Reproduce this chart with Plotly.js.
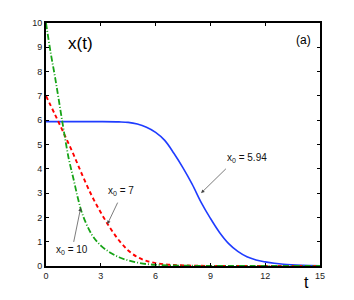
<!DOCTYPE html>
<html>
<head>
<meta charset="utf-8">
<script src="https://cdn.plot.ly/plotly-3.0.1.min.js"></script>
<style>html,body{margin:0;padding:0;background:#fff;}#plot{width:354px;height:300px;}</style>
</head>
<body>
<div id="plot"></div>
<script>
// x0 = 5.94 (blue, solid)
var tBlue = [0, 1, 2, 3, 4, 4.5, 5, 5.5, 6, 6.5, 7, 7.5, 8, 8.5, 9, 9.5, 10, 10.5, 11, 11.5, 12, 12.5, 13, 14, 15];
var xBlue = [5.94, 5.94, 5.94, 5.94, 5.93, 5.91, 5.84, 5.71, 5.50, 5.17, 4.64, 4.04, 3.37, 2.61, 1.96, 1.38, 0.92, 0.60, 0.38, 0.25, 0.17, 0.11, 0.07, 0.03, 0.01];
// x0 = 7 (red, dashed)
var tRed = [0, 0.5, 1, 1.5, 2, 2.5, 3, 3.5, 4, 4.5, 5, 5.5, 6, 6.5, 7, 8, 9, 10, 12, 15];
var xRed = [7.0, 6.22, 5.42, 4.6, 3.72, 2.9, 2.2, 1.58, 1.05, 0.64, 0.37, 0.21, 0.12, 0.07, 0.04, 0.015, 0.005, 0.002, 0, 0];
// x0 = 10 (green, dash-dot)
var tGreen = [0, 0.25, 0.5, 0.75, 1, 1.25, 1.5, 1.75, 2, 2.5, 3, 3.5, 4, 4.5, 5, 5.5, 6, 7, 8, 10, 12, 15];
var xGreen = [10, 8.8, 7.75, 6.6, 5.45, 4.4, 3.6, 2.78, 2.12, 1.3, 0.84, 0.56, 0.36, 0.23, 0.14, 0.08, 0.05, 0.02, 0.01, 0.003, 0, 0];

var xTicks = [0, 3, 6, 9, 12, 15];
var yTicks = [0, 1, 2, 3, 4, 5, 6, 7, 8, 9, 10];

var labels = ['x<sub>0</sub> = 5.94', 'x<sub>0</sub> = 7', 'x<sub>0</sub> = 10'];

var traces = [
  {x: tBlue, y: xBlue, mode: 'lines', line: {color: '#1f3cff', width: 1.6, shape: 'spline'}, showlegend: false, hoverinfo: 'skip'},
  {x: tRed, y: xRed, mode: 'lines', line: {color: '#ff0000', width: 1.9, dash: '4px,3px', shape: 'spline'}, showlegend: false, hoverinfo: 'skip'},
  {x: tGreen, y: xGreen, mode: 'lines', line: {color: '#16a316', width: 1.8, dash: '6px,2px,1px,2px', shape: 'spline'}, showlegend: false, hoverinfo: 'skip'}
];

var axisCommon = {
  showline: true, linecolor: '#000', linewidth: 2, mirror: 'ticks',
  ticks: 'inside', ticklen: 3, tickwidth: 1, tickcolor: '#000',
  showgrid: false, zeroline: false,
  tickfont: {family: 'Liberation Sans, Arial, sans-serif', size: 9, color: '#222'}
};

var arrowStyle = {showarrow: true, arrowhead: 2, arrowsize: 1, arrowwidth: 0.7, arrowcolor: '#444', axref: 'x', ayref: 'y', text: '', standoff: 0, startstandoff: 0};
var textFont = {family: 'Liberation Sans, Arial, sans-serif', size: 10, color: '#111'};

var layout = {
  width: 354, height: 300,
  margin: {l: 46, r: 34, t: 23, b: 34},
  paper_bgcolor: '#fff', plot_bgcolor: '#fff',
  xaxis: Object.assign({}, axisCommon, {range: [0, 15], tickvals: xTicks, ticktext: xTicks.map(String)}),
  yaxis: Object.assign({}, axisCommon, {range: [0, 10], tickvals: yTicks, ticktext: yTicks.map(String)}),
  annotations: [
    {xref: 'paper', yref: 'paper', x: 0.073, y: 0.915, xanchor: 'left', yanchor: 'middle', text: 'x(t)', showarrow: false, font: {family: 'Liberation Sans, Arial, sans-serif', size: 17, color: '#000'}},
    {xref: 'paper', yref: 'paper', x: 0.975, y: 0.93, xanchor: 'right', yanchor: 'middle', text: '(a)', showarrow: false, font: {family: 'Liberation Sans, Arial, sans-serif', size: 12, color: '#000'}},
    {xref: 'paper', yref: 'paper', x: 0.95, y: -0.025, xanchor: 'center', yanchor: 'top', text: 't', showarrow: false, font: {family: 'Liberation Sans, Arial, sans-serif', size: 16, color: '#000'}},
    {x: 11.0, y: 4.45, text: labels[0], showarrow: false, font: textFont},
    {x: 4.1, y: 3.1, text: labels[1], showarrow: false, font: textFont},
    {x: 1.45, y: 0.66, text: labels[2], showarrow: false, font: textFont},
    Object.assign({}, arrowStyle, {x: 8.49, y: 3.0, ax: 9.93, ay: 4.06}),
    Object.assign({}, arrowStyle, {x: 3.36, y: 1.72, ax: 3.96, ay: 2.67}),
    Object.assign({}, arrowStyle, {x: 1.9, y: 2.4, ax: 1.5, ay: 0.93})
  ]
};

Plotly.newPlot('plot', traces, layout, {staticPlot: true, displayModeBar: false});
</script>
</body>
</html>
